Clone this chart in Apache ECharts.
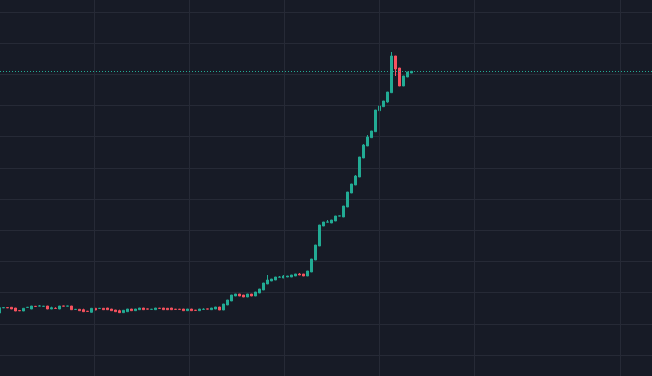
<!DOCTYPE html>
<html>
<head>
<meta charset="utf-8">
<script src="https://cdn.jsdelivr.net/npm/echarts/dist/echarts.min.js"></script>
<style>
  html, body { margin: 0; padding: 0; background: #171b26; }
  #main { width: 652px; height: 376px; }
</style>
</head>
<body>
<div id="main"></div>
<script>
// candles, oldest first (price units: one grid row = 10)
const opens = [
  13.47, 15.12, 15.2, 15.3, 15.07, 14.25, 14.11, 15.26, 14.75, 15.62,
  15.68, 15.6, 15.71, 14.75, 14.98, 14.75, 15.72, 15.66, 15.71, 14.6,
  14.66, 14.53, 14.04, 13.69, 14.98, 14.92, 14.98, 15.07, 14.75, 14.43,
  14.21, 13.57, 13.89, 14.75, 14.21, 14.53, 15.07, 14.78, 14.63, 14.53,
  15.01, 15.07, 14.98, 15.07, 14.69, 14.69, 14.75, 14.21, 14.75, 14.37,
  14.21, 14.63, 14.78, 14.53, 14.75, 15.39, 14.43, 16.04, 17.32, 18.92,
  19.56, 19.24, 18.6, 19.56, 18.92, 19.88, 20.85, 22.77, 23.73, 24.05,
  24.95, 24.69, 25.01, 25.01, 25.34, 25.98, 25.98, 25.34, 26.62, 30.47,
  34.96, 41.37, 42.6, 42.33, 42.97, 44.55, 44.26, 47.46, 51.95, 54.52,
  57.08, 63.18, 67.03, 69.69, 71.61, 78.35, 79.63, 81.14, 84.12, 95.89,
  92.04, 86.27, 89.15, 90.44
];
const closes = [
  15.17, 15.2, 15.12, 14.75, 14.11, 14.18, 14.98, 15.3, 15.71, 15.56,
  15.74, 15.64, 14.75, 15.17, 14.92, 15.71, 15.66, 15.72, 14.53, 14.66,
  14.21, 13.89, 13.98, 14.98, 14.43, 14.98, 14.53, 14.53, 14.21, 13.89,
  13.57, 14.34, 14.75, 14.21, 14.75, 15.07, 14.53, 14.72, 14.69, 15.07,
  14.95, 14.53, 14.53, 14.53, 14.63, 14.63, 14.21, 14.75, 14.21, 14.31,
  14.75, 14.69, 14.72, 15.07, 15.39, 14.43, 16.36, 17.64, 19.24, 19.56,
  18.92, 18.6, 19.56, 18.92, 20.2, 21.17, 23.09, 24.05, 24.37, 25.01,
  25.01, 25.34, 25.34, 25.66, 25.98, 25.66, 25.34, 26.94, 30.79, 35.28,
  41.69, 42.65, 42.68, 43.29, 44.58, 44.62, 47.78, 52.27, 54.84, 57.41,
  63.5, 67.35, 69.91, 71.84, 78.57, 79.85, 81.46, 84.34, 95.89, 91.72,
  86.27, 89.48, 90.76, 90.98
];
const lows = [
  13.47, 15.12, 15.12, 14.75, 14.11, 14.18, 14.11, 15.26, 14.75, 15.56,
  15.68, 15.6, 14.75, 14.75, 14.92, 14.75, 15.66, 15.66, 14.53, 14.6,
  14.21, 13.89, 13.98, 13.69, 14.43, 14.92, 14.53, 14.53, 14.21, 13.89,
  13.57, 13.57, 13.89, 14.21, 14.21, 14.53, 14.53, 14.72, 14.63, 14.53,
  14.95, 14.53, 14.53, 14.53, 14.63, 14.63, 14.21, 14.21, 14.21, 14.31,
  14.21, 14.63, 14.72, 14.53, 14.75, 14.43, 14.43, 16.04, 17.32, 18.92,
  18.92, 18.6, 18.6, 18.92, 18.92, 19.88, 20.85, 22.77, 23.73, 24.05,
  24.95, 24.69, 25.01, 25.01, 25.34, 25.66, 25.34, 25.34, 26.62, 30.47,
  34.96, 41.37, 42.6, 42.33, 42.97, 44.55, 44.26, 47.46, 51.95, 54.52,
  57.08, 63.18, 67.03, 69.69, 71.61, 78.35, 79.63, 80.92, 84.12, 89.48,
  86.27, 86.27, 89.15, 90.44
];
const highs = [
  15.17, 15.2, 15.2, 15.3, 15.07, 14.25, 14.98, 15.3, 15.71, 15.62,
  16.04, 15.64, 15.71, 15.49, 15.3, 15.71, 15.72, 15.72, 15.71, 14.66,
  14.66, 14.85, 14.04, 14.98, 14.98, 14.98, 14.98, 15.07, 14.75, 14.43,
  14.53, 14.34, 14.75, 14.75, 14.75, 15.07, 15.07, 14.78, 14.69, 15.07,
  15.01, 15.07, 14.98, 15.07, 14.69, 14.69, 14.75, 14.75, 14.75, 14.37,
  14.75, 14.98, 14.78, 15.07, 15.39, 15.39, 16.36, 17.64, 19.24, 19.56,
  19.56, 19.24, 19.56, 19.56, 20.2, 21.17, 23.09, 25.66, 24.37, 25.01,
  25.34, 25.66, 25.34, 25.66, 25.98, 26.3, 25.98, 26.94, 30.79, 35.28,
  41.69, 42.65, 43.29, 43.29, 44.58, 44.62, 47.78, 52.27, 54.84, 57.73,
  63.5, 67.67, 70.55, 71.84, 78.57, 79.85, 81.46, 84.34, 97.17, 95.89,
  92.04, 89.48, 90.76, 90.98
];
// visible time range in bar slots (first bar is half cut off at the left edge)
const slotMin = 0.125;
const slotMax = 163.125;
// vertical time grid lines, in bar-slot units
const timeGrid = [23.75, 47.5, 71.25, 95, 118.75, 155.25];
// price axis
const priceMin = 0;
const priceMax = 110;
const priceStep = 10;

const UP = "#22ab94";
const DOWN = "#f7525f";
const GRID = "#262a36";

const candles = opens.map((o, i) => [i, o, closes[i], lows[i], highs[i]]);
const lastClose = closes[closes.length - 1];

const chart = echarts.init(document.getElementById("main"));
const hidden = {
  axisLine: { show: false },
  axisTick: { show: false },
  axisLabel: { show: false },
  splitLine: { show: false }
};

const option = {
  backgroundColor: "#171b26",
  animation: false,
  grid: [
    { left: 0, right: 0, top: 0, bottom: 0 },
    { left: 0, right: 0, top: 12, bottom: 21 }
  ],
  xAxis: [
    Object.assign({ type: "value", gridIndex: 0, min: slotMin, max: slotMax }, hidden),
    Object.assign({ type: "value", gridIndex: 1, min: slotMin, max: slotMax }, hidden)
  ],
  yAxis: [
    Object.assign({ type: "value", gridIndex: 0, min: 0, max: 1 }, hidden),
    {
      type: "value",
      gridIndex: 1,
      min: priceMin,
      max: priceMax,
      interval: priceStep,
      axisLine: { show: false },
      axisTick: { show: false },
      axisLabel: { show: false },
      splitLine: { show: true, lineStyle: { color: GRID, width: 1 } }
    }
  ],
  series: [
    {
      // time grid lines
      type: "line",
      xAxisIndex: 0,
      yAxisIndex: 0,
      data: [],
      silent: true,
      z: 0,
      markLine: {
        silent: true,
        symbol: ["none", "none"],
        label: { show: false },
        lineStyle: { color: GRID, width: 1, type: "solid" },
        data: timeGrid.map(v => ({ xAxis: v }))
      }
    },
    {
      type: "candlestick",
      xAxisIndex: 1,
      yAxisIndex: 1,
      data: candles,
      encode: { x: 0, y: [1, 2, 3, 4] },
      barWidth: 2,
      z: 3,
      itemStyle: {
        color: UP,
        color0: DOWN,
        borderColor: UP,
        borderColor0: DOWN,
        borderWidth: 1
      },
      markLine: {
        silent: true,
        symbol: ["none", "none"],
        label: { show: false },
        lineStyle: { color: UP, width: 1, type: [1, 2] },
        data: [{ yAxis: lastClose }]
      }
    }
  ]
};
chart.setOption(option);
</script>
</body>
</html>
